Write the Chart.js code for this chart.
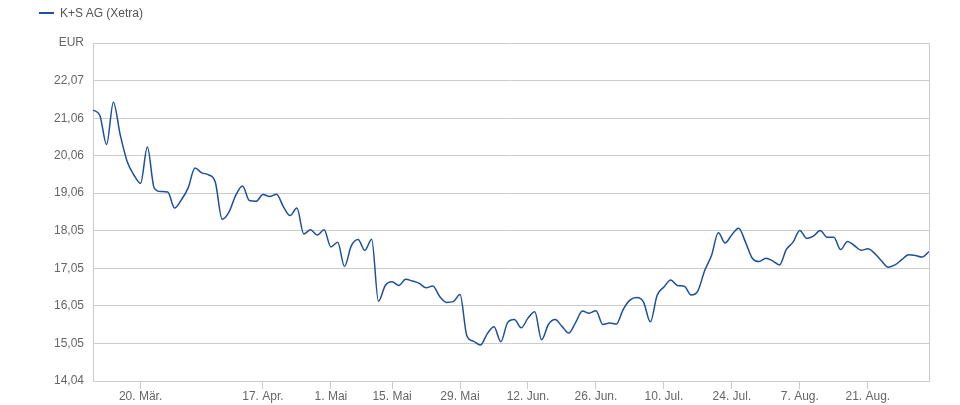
<!DOCTYPE html>
<html>
<head>
<meta charset="utf-8">
<script src="https://cdn.jsdelivr.net/npm/chart.js@4/dist/chart.umd.min.js"></script>
<style>
  body { margin: 0; background: #fff; font-family: "Liberation Sans", Arial, sans-serif; }
  #wrap { position: relative; width: 960px; height: 405px; }
  #legend { position: absolute; left: 39px; top: 5px; font-size: 12px; color: #555; line-height: 16px; }
  #legend span.sw { display: inline-block; width: 15px; height: 2px; background: #1c4f9c; vertical-align: middle; margin-right: 6px; position: relative; top: -1px; }
</style>
</head>
<body>
<div id="wrap">
  <div id="legend"><span class="sw"></span>K+S AG (Xetra)</div>
  <canvas id="kurs"></canvas>
</div>
<script>
// Schlusskurse (ein Wert pro Handelstag)
var kurse = [
  21.28, 21.14, 20.36, 21.49, 20.62, 19.92, 19.55, 19.32, 20.29, 19.20,
  19.10, 19.09, 18.66, 18.88, 19.20, 19.73, 19.60, 19.55, 19.35, 18.36,
  18.55, 19.00, 19.25, 18.86, 18.84, 19.02, 18.97, 19.03, 18.70, 18.46,
  18.66, 17.97, 18.08, 17.94, 18.08, 17.62, 17.75, 17.10, 17.65, 17.82,
  17.53, 17.83, 16.17, 16.59, 16.69, 16.59, 16.76, 16.71, 16.65, 16.53,
  16.58, 16.30, 16.14, 16.16, 16.35, 15.25, 15.10, 15.00, 15.30, 15.49,
  15.09, 15.60, 15.68, 15.46, 15.72, 15.89, 15.14, 15.55, 15.68, 15.50,
  15.32, 15.60, 15.91, 15.85, 15.92, 15.55, 15.59, 15.56, 15.95, 16.20,
  16.27, 16.15, 15.62, 16.33, 16.55, 16.74, 16.59, 16.57, 16.34, 16.45,
  16.99, 17.39, 18.00, 17.73, 17.95, 18.12, 17.75, 17.32, 17.23, 17.32,
  17.25, 17.14, 17.55, 17.75, 18.06, 17.85, 17.91, 18.06, 17.88, 17.88,
  17.55, 17.77, 17.66, 17.53, 17.57, 17.45, 17.25, 17.08, 17.14, 17.28,
  17.41, 17.39, 17.35, 17.50
];

// Achsenbeschriftungen
var datumPos = [7, 25, 35, 44, 54, 64, 74, 84, 94, 104, 114];
var datumText = ['20. Mär.', '17. Apr.', '1. Mai', '15. Mai', '29. Mai', '12. Jun.', '26. Jun.', '10. Jul.', '24. Jul.', '7. Aug.', '21. Aug.'];
var yWerte = [14.04, 15.05, 16.05, 17.05, 18.05, 19.06, 20.06, 21.06, 22.07];
var yMax = 23.07;

var rahmen = {
  id: 'rahmen',
  afterDatasetsDraw(chart) {
    var a = chart.chartArea, c = chart.ctx;
    c.save();
    c.strokeStyle = '#cccccc';
    c.lineWidth = 1;
    c.beginPath();
    c.moveTo(Math.round(a.right) + 0.5, a.top);
    c.lineTo(Math.round(a.right) + 0.5, a.bottom);
    c.stroke();
    c.restore();
  }
};

new Chart(document.getElementById('kurs'), {
  type: 'line',
  data: {
    datasets: [{
      label: 'K+S AG (Xetra)',
      data: kurse.map((v, i) => ({ x: i, y: v })),
      borderColor: '#1c4f9c',
      borderWidth: 1.5,
      pointRadius: 0,
      fill: false,
      cubicInterpolationMode: 'monotone'
    }]
  },
  options: {
    responsive: true,
    maintainAspectRatio: false,
    animation: false,
    layout: { padding: { top: 43, right: 31, left: 0, bottom: 0 } },
    plugins: { legend: { display: false }, tooltip: { enabled: false } },
    scales: {
      x: {
        type: 'linear',
        min: 0,
        max: kurse.length - 1,
        afterBuildTicks: (s) => { s.ticks = datumPos.map(v => ({ value: v })); },
        afterFit: (s) => { s.height = 24; },
        grid: { drawOnChartArea: false, drawTicks: true, tickLength: 8, color: '#cccccc' },
        border: { color: '#cccccc' },
        ticks: {
          autoSkip: false,
          maxRotation: 0,
          padding: 0,
          color: '#666',
          font: { family: '"Liberation Sans", Arial, sans-serif', size: 12 },
          callback: (v) => datumText[datumPos.indexOf(v)]
        }
      },
      y: {
        min: yWerte[0],
        max: yMax,
        afterBuildTicks: (s) => { s.ticks = yWerte.concat([yMax]).map(v => ({ value: v })); },
        afterFit: (s) => { s.width = 93; },
        grid: { color: '#cccccc', drawTicks: false },
        border: { color: '#cccccc' },
        ticks: {
          padding: 9,
          color: '#666',
          font: { family: '"Liberation Sans", Arial, sans-serif', size: 12 },
          callback: (v) => v === yMax ? 'EUR' : v.toFixed(2).replace('.', ',')
        }
      }
    }
  },
  plugins: [rahmen]
});
</script>
</body>
</html>
